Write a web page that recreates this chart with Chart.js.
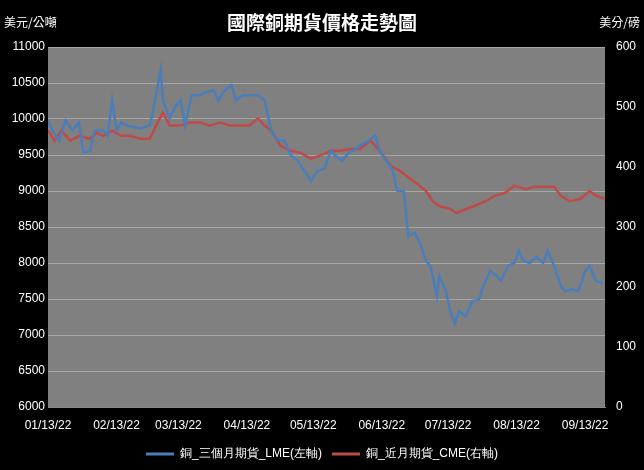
<!DOCTYPE html>
<html><head><meta charset="utf-8">
<script src="https://cdn.jsdelivr.net/npm/chart.js@4"></script>
<style>
body{margin:0;background:#000;}
#w{position:relative;width:644px;height:470px;}
.t{position:absolute;color:#fff;font-family:"Noto Sans CJK TC";}
</style></head><body>
<div id="w">
<canvas id="c" width="644" height="470"></canvas>
<div class="t" style="left:0;width:644px;top:8px;text-align:center;font-size:19px;font-weight:bold;">國際銅期貨價格走勢圖</div>
<div class="t" style="left:4px;top:13px;font-size:12px;">美元/公噸</div>
<div class="t" style="right:4px;top:13px;font-size:12px;">美分/磅</div>
</div>
<script>
// days since 01/13/22
const tickDays=[0,31,59,90,120,151,181,212,243];
const tickLabels=["01/13/22","02/13/22","03/13/22","04/13/22","05/13/22","06/13/22","07/13/22","08/13/22","09/13/22"];
const lmeDays=[0,2,5,8,11,14,16,19,21,25,27,29,31,33,36,42,46,48,51,52,55,58,60,62,65,69,71,75,77,80,83,85,88,91,95,98,101,104,107,110,113,116,119,122,125,128,130,133,136,138,141,145,148,150,153,156,158,161,163,166,168,171,173,176,177,180,182,184,186,189,192,195,197,200,203,205,208,211,213,215,218,221,224,226,229,232,234,237,240,243,245,248,251];
const lmeValues=[9980,9840,9700,9980,9840,9950,9530,9560,9840,9840,9770,10260,9840,9950,9910,9870,9910,10190,10680,10260,10010,10190,10260,9910,10330,10330,10370,10400,10260,10400,10470,10260,10330,10330,10330,10260,9840,9700,9700,9490,9420,9280,9140,9280,9310,9560,9490,9420,9530,9560,9630,9700,9770,9560,9420,9280,9000,9000,8370,8420,8300,8030,7960,7540,7820,7610,7330,7160,7330,7260,7470,7490,7680,7890,7820,7750,7960,8000,8170,8030,8000,8090,8000,8170,7960,7680,7610,7630,7610,7890,7960,7750,7720];
const cmeDays=[0,3,6,10,14,19,22,25,29,33,37,42,46,50,52,55,60,64,69,73,78,82,87,91,95,98,101,105,110,114,119,123,128,132,137,141,146,150,155,159,164,168,171,174,177,182,185,189,193,198,202,207,211,216,220,225,229,232,236,241,245,248,252];
const cmeValues=[461,444,461,444,452,447,457,452,461,452,452,447,447,477,491,469,469,474,474,469,474,469,469,469,481,469,461,436,427,424,414,419,427,427,430,430,444,427,402,394,380,369,360,343,335,330,323,330,335,343,352,357,369,363,367,367,367,352,343,347,360,352,347];
const seriesNames=["銅_三個月期貨_LME(左軸)","銅_近月期貨_CME(右軸)"];
const toXY=(d,v)=>d.map((x,i)=>({x:x,y:v[i]}));
const bg={id:'bg',beforeDraw(c){const a=c.chartArea,x=c.ctx;x.save();x.fillStyle='#808080';x.fillRect(a.left,a.top,a.right-a.left,a.bottom-a.top);x.restore();}};
const F={family:"'Liberation Sans'",size:12};
new Chart(document.getElementById('c'),{type:'line',
data:{datasets:[
{label:seriesNames[0],data:toXY(lmeDays,lmeValues),borderColor:'#4a7ebb',borderWidth:2.5,pointRadius:0,tension:0,yAxisID:'y'},
{label:seriesNames[1],data:toXY(cmeDays,cmeValues),borderColor:'#be4b48',borderWidth:2.5,pointRadius:0,tension:0,yAxisID:'y1'}]},
options:{responsive:false,animation:false,
layout:{padding:{top:47,left:0,right:0,bottom:0}},
plugins:{legend:{position:'bottom',labels:{color:'#fff',font:F,boxWidth:28,boxHeight:0,padding:10,generateLabels(c){return c.data.datasets.map((d,i)=>({text:d.label,strokeStyle:d.borderColor,fillStyle:d.borderColor,lineWidth:3,fontColor:'#fff',datasetIndex:i}));}}},tooltip:{enabled:false}},
scales:{
x:{type:'linear',min:0,max:252,afterBuildTicks(s){s.ticks=tickDays.map(v=>({value:v}));},
ticks:{color:'#fff',font:F,maxRotation:0,autoSkip:false,callback:(v)=>tickLabels[tickDays.indexOf(v)]},
grid:{display:false},border:{color:'#888'},afterFit(s){s.height=31;}},
y:{position:'left',min:6000,max:11000,ticks:{stepSize:500,color:'#fff',font:F,callback:v=>String(v)},grid:{color:'#a6a6a6',drawTicks:false},border:{display:false},afterFit(s){s.width=48;}},
y1:{position:'right',min:0,max:600,ticks:{stepSize:100,color:'#fff',font:F},grid:{display:false},border:{display:false},afterFit(s){s.width=39;}}
}},plugins:[bg]});
</script></body></html>
